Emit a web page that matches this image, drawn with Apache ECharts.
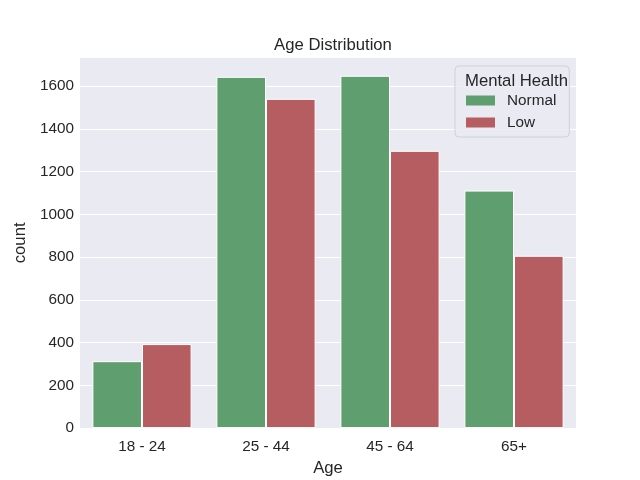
<!DOCTYPE html>
<html>
<head>
<meta charset="utf-8">
<script src="https://cdn.jsdelivr.net/npm/echarts@6/dist/echarts.min.js"></script>
<style>html,body{margin:0;padding:0;background:#fff;}#c{width:640px;height:480px;}</style>
</head>
<body>
<div id="c"></div>
<script>
const categories = ['18 - 24', '25 - 44', '45 - 64', '65+'];
const normalCounts = [313, 1643, 1648, 1111];
const lowCounts = [393, 1540, 1297, 806];
const seriesNames = ['Normal', 'Low'];
const FONT = 'Liberation Sans, Arial, sans-serif';
const TXT = '#262626';

const chart = echarts.init(document.getElementById('c'));
chart.setOption({
  animation: false,
  backgroundColor: '#ffffff',
  title: [
    { text: 'Age Distribution', left: 328, top: 32, textAlign: 'center',
      textStyle: { fontFamily: FONT, fontSize: 16.7, fontWeight: 'normal', color: TXT } },
    { text: 'Mental Health', left: 511.5, top: 68, textAlign: 'center',
      textStyle: { fontFamily: FONT, fontSize: 16.7, fontWeight: 'normal', color: TXT }, z: 10 }
  ],
  legend: {
    data: seriesNames,
    orient: 'vertical',
    left: 455, top: 66,
    padding: [27, 13, 7, 11],
    itemWidth: 29, itemHeight: 10, itemGap: 7,
    icon: 'rect',
    backgroundColor: 'rgba(234,234,242,0.8)',
    borderColor: '#d0d0d6', borderWidth: 1, borderRadius: 4,
    textStyle: { fontFamily: FONT, fontSize: 15.3, color: TXT, lineHeight: 15, padding: [0, 0, 0, 7] },
    itemStyle: { borderWidth: 0 }
  },
  grid: { left: 80, right: 64, top: 57.6, bottom: 51.9, show: true, backgroundColor: '#EAEAF2', borderWidth: 0,
    containLabel: false, outerBoundsMode: 'none' },
  xAxis: {
    type: 'category', data: categories,
    name: 'Age', nameLocation: 'middle', nameGap: 32,
    nameTextStyle: { fontFamily: FONT, fontSize: 16.7, color: TXT },
    axisLine: { show: false }, axisTick: { show: false },
    axisLabel: { fontFamily: FONT, fontSize: 15.3, color: TXT, margin: 11 },
    splitLine: { show: false }
  },
  yAxis: {
    type: 'value', min: 0, max: 1733, interval: 200,
    name: 'count', nameLocation: 'middle', nameGap: 50,
    nameTextStyle: { fontFamily: FONT, fontSize: 16.7, color: TXT },
    axisLine: { show: false }, axisTick: { show: false },
    axisLabel: { fontFamily: FONT, fontSize: 15.3, color: TXT, margin: 6, showMaxLabel: false,
      formatter: v => String(v) },
    splitLine: { show: true, lineStyle: { color: '#ffffff', width: 1.2 } }
  },
  series: [
    { name: seriesNames[0], type: 'bar', data: normalCounts, barGap: '0%', barCategoryGap: '20%',
      itemStyle: { color: '#5F9E6E', borderColor: '#ffffff', borderWidth: 1 } },
    { name: seriesNames[1], type: 'bar', data: lowCounts, barGap: '0%', barCategoryGap: '20%',
      itemStyle: { color: '#B55D60', borderColor: '#ffffff', borderWidth: 1 } }
  ]
});
</script>
</body>
</html>
